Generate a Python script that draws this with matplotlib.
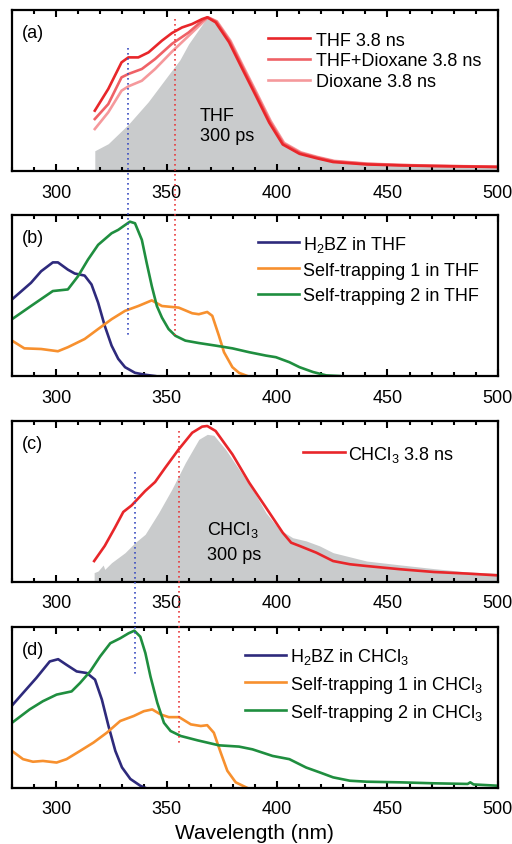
import matplotlib
matplotlib.use("Agg")
import matplotlib.pyplot as plt
from matplotlib.lines import Line2D
from matplotlib.transforms import blended_transform_factory
from matplotlib.ticker import MultipleLocator

plt.rcParams['font.family'] = ['Liberation Sans', 'DejaVu Sans']
plt.rcParams['mathtext.fontset'] = 'custom'
plt.rcParams['mathtext.rm'] = 'Liberation Sans'
plt.rcParams['mathtext.it'] = 'Liberation Sans'

# ---------------- data ----------------
# Panel (a)
a_fill_wl = [317.5, 323.6, 332.7, 341.7, 351, 356, 360, 364.6, 368.4, 372.2, 378.3, 384.3, 390.4, 396.5, 402.6, 410.2, 425.3, 440.5, 455.7, 475, 500]
a_fill_val = [0.126, 0.17, 0.29, 0.43, 0.60, 0.69, 0.79, 0.88, 0.955, 0.92, 0.79, 0.62, 0.455, 0.29, 0.16, 0.11, 0.066, 0.045, 0.035, 0.03, 0.025]

a_thf_wl = [317.5, 323.6, 329.6, 332.7, 337.2, 341.8, 347.9, 352.4, 357, 361.5, 366.1, 368.4, 372.2, 378.3, 384.3, 390.4, 396.5, 402.6, 410.2, 417.8, 425.4, 440.6, 455.8, 471, 500]
a_thf_val = [0.375, 0.51, 0.675, 0.706, 0.706, 0.737, 0.81, 0.857, 0.892, 0.913, 0.944, 0.955, 0.924, 0.80, 0.634, 0.468, 0.30, 0.165, 0.107, 0.08, 0.056, 0.041, 0.035, 0.031, 0.025]

a_mix_wl = [317.5, 323.6, 329.6, 332.7, 338.8, 344.8, 352.4, 360, 366.1, 368.6, 372.5, 378.6, 384.6, 390.7, 396.8, 402.9, 410.5, 418.1, 425.7, 440.9, 456.1, 471.3, 500]
a_mix_val = [0.323, 0.416, 0.582, 0.603, 0.634, 0.696, 0.79, 0.861, 0.934, 0.955, 0.928, 0.805, 0.64, 0.474, 0.306, 0.17, 0.112, 0.084, 0.06, 0.044, 0.037, 0.032, 0.026]

a_dio_wl = [317.5, 323.6, 329.6, 332.7, 338.8, 344.8, 352.4, 360, 366.1, 368.8, 372.8, 378.9, 384.9, 391, 397.1, 403.2, 410.8, 418.4, 426, 441.2, 456.4, 471.6, 500]
a_dio_val = [0.261, 0.365, 0.499, 0.526, 0.561, 0.634, 0.741, 0.84, 0.92, 0.955, 0.93, 0.81, 0.645, 0.48, 0.312, 0.175, 0.116, 0.087, 0.063, 0.046, 0.038, 0.033, 0.027]

# Panel (b)
b_h2bz_wl = [280, 288.6, 293.2, 298.5, 300.8, 305.3, 308.4, 312.9, 316, 319, 322, 325.1, 328.1, 331.2, 335.7, 340.3, 344.8]
b_h2bz_val = [0.476, 0.579, 0.651, 0.706, 0.706, 0.661, 0.637, 0.624, 0.569, 0.456, 0.312, 0.189, 0.107, 0.055, 0.02, 0.008, 0.0]

b_st1_wl = [280, 285.6, 293.2, 300.8, 305.3, 312.9, 319, 325.1, 331.2, 337.2, 343.3, 347.9, 355.5, 361.6, 364.6, 368.4, 370.7, 373.7, 376, 379.8, 382.8, 386.6]
b_st1_val = [0.22, 0.172, 0.168, 0.154, 0.179, 0.23, 0.292, 0.353, 0.405, 0.435, 0.47, 0.435, 0.425, 0.39, 0.384, 0.398, 0.374, 0.25, 0.148, 0.055, 0.02, 0.0]

b_st2_wl = [280, 288.6, 298.5, 305.3, 309.9, 314.4, 319, 325.1, 328.1, 331.2, 333.4, 335.7, 338.8, 341, 343.3, 345.6, 347.9, 350.9, 354, 358.5, 364.6, 372.2, 379.8, 387.4, 395, 399.5, 405.6, 410.2, 416.3, 422.3, 428.4]
b_st2_val = [0.353, 0.435, 0.528, 0.538, 0.62, 0.723, 0.815, 0.887, 0.908, 0.938, 0.959, 0.949, 0.846, 0.702, 0.559, 0.435, 0.363, 0.292, 0.25, 0.22, 0.205, 0.189, 0.172, 0.148, 0.127, 0.117, 0.086, 0.055, 0.025, 0.004, 0.0]

# Panel (c)
c_fill_wl = [317.2, 319, 321.3, 322, 325.1, 331.2, 335.7, 340.3, 346.4, 352.4, 358.5, 364.6, 368.4, 371.4, 376.7, 382.8, 388.9, 395, 401, 407.1, 413.2, 419.3, 425.4, 440.6, 455.8, 471, 486.3, 500]
c_fill_val = [0.058, 0.068, 0.105, 0.078, 0.12, 0.182, 0.244, 0.296, 0.43, 0.576, 0.741, 0.886, 0.917, 0.911, 0.824, 0.70, 0.576, 0.43, 0.327, 0.275, 0.255, 0.224, 0.182, 0.13, 0.106, 0.083, 0.062, 0.054]

c_chcl3_wl = [317.2, 322, 326.6, 330.4, 334.2, 340.3, 344.8, 349.4, 355.5, 361.6, 366.1, 368.4, 372.2, 379.8, 387.4, 395, 402.6, 406.4, 410.2, 417.8, 425.4, 433, 440.6, 455.8, 471, 486.3, 500]
c_chcl3_val = [0.13, 0.224, 0.337, 0.435, 0.476, 0.565, 0.621, 0.71, 0.824, 0.927, 0.965, 0.969, 0.938, 0.793, 0.617, 0.462, 0.306, 0.244, 0.224, 0.182, 0.13, 0.11, 0.099, 0.079, 0.062, 0.052, 0.041]

# Panel (d)
d_h2bz_wl = [280, 285, 291, 297.1, 300.9, 304.7, 309.3, 313.9, 317.6, 320.7, 323.7, 326.8, 329.8, 333.6, 338.1, 340.5]
d_h2bz_val = [0.512, 0.59, 0.683, 0.786, 0.80, 0.765, 0.724, 0.714, 0.673, 0.549, 0.385, 0.23, 0.128, 0.056, 0.014, 0.0]

d_st1_wl = [280, 285, 289.5, 294, 300.2, 304.7, 310.8, 316.9, 323, 329, 335.1, 339.7, 343.5, 347.3, 351, 355.7, 361, 365.5, 368.4, 371.4, 374.5, 377.5, 381.3, 386.6]
d_st1_val = [0.23, 0.179, 0.163, 0.168, 0.158, 0.179, 0.23, 0.282, 0.344, 0.416, 0.447, 0.477, 0.488, 0.457, 0.44, 0.44, 0.395, 0.385, 0.39, 0.343, 0.22, 0.107, 0.035, 0.0]

d_st2_wl = [280, 288, 294, 300.2, 307, 310.8, 315.4, 319.9, 324.5, 329, 332.8, 335.4, 338.1, 340.4, 342.7, 345.8, 348.8, 351.8, 356.4, 364, 373.7, 382.8, 388.9, 398, 405.6, 413.2, 419.3, 425.4, 433, 440.6, 455.8, 471, 486.3, 487.5, 489, 500]
d_st2_val = [0.405, 0.488, 0.539, 0.58, 0.60, 0.652, 0.724, 0.817, 0.899, 0.93, 0.961, 0.977, 0.94, 0.838, 0.693, 0.529, 0.405, 0.354, 0.323, 0.296, 0.265, 0.257, 0.24, 0.199, 0.179, 0.127, 0.097, 0.066, 0.045, 0.039, 0.035, 0.029, 0.025, 0.035, 0.022, 0.014]

# Marker wavelengths (dotted guide lines)
guide_ab = [332.5, 354.0]
guide_cd = [335.5, 355.5]

# ---------------- styles ----------------
RED = '#e8262a'
RED_MID = '#ef6166'
RED_LIGHT = '#f5999c'
NAVY = '#2e2a7c'
ORANGE = '#f7902e'
GREEN = '#1f8e3f'
GRAY = '#c9cbcc'
BLUE_DOT = '#3a4cc0'
RED_DOT = '#e8393c'

fig = plt.figure(figsize=(5.12, 8.45), dpi=100)
L, W, H = 0.0234, 0.949, 0.1905
bottoms = [0.7964, 0.5538, 0.3101, 0.0663]
axs = [fig.add_axes([L, b, W, H]) for b in bottoms]

for ax in axs:
    ax.set_xlim(280, 500)
    ax.set_ylim(0, 1)
    ax.set_yticks([])
    ax.xaxis.set_major_locator(MultipleLocator(50))
    ax.xaxis.set_minor_locator(MultipleLocator(10))
    ax.tick_params(axis='x', which='both', direction='in', top=True, bottom=True, width=1.5, labelsize=13, pad=9)
    ax.tick_params(axis='x', which='major', length=5)
    ax.tick_params(axis='x', which='minor', length=3)
    for s in ax.spines.values():
        s.set_linewidth(1.6)

lw = 1.9
leg_kw = dict(loc='upper left', frameon=False, fontsize=13, handlelength=2.3,
              borderpad=0, borderaxespad=0)
# (a)
ax = axs[0]
ax.fill_between(a_fill_wl, a_fill_val, 0, color=GRAY, lw=0)
ax.plot(a_dio_wl, a_dio_val, color=RED_LIGHT, lw=lw, label='Dioxane 3.8 ns')
ax.plot(a_mix_wl, a_mix_val, color=RED_MID, lw=lw, label='THF+Dioxane 3.8 ns')
ax.plot(a_thf_wl, a_thf_val, color=RED, lw=lw, label='THF 3.8 ns')
h, l = ax.get_legend_handles_labels()
ax.legend(h[::-1], l[::-1], bbox_to_anchor=(0.527, 0.865), handletextpad=0.35, labelspacing=0.2, **leg_kw)
ax.text(365, 0.344, 'THF', fontsize=13, va='center', ha='left')
ax.text(365, 0.22, '300 ps', fontsize=13, va='center', ha='left')

# (b)
ax = axs[1]
ax.plot(b_h2bz_wl, b_h2bz_val, color=NAVY, lw=lw, label='H$_2$BZ in THF')
ax.plot(b_st1_wl, b_st1_val, color=ORANGE, lw=lw, label='Self-trapping 1 in THF')
ax.plot(b_st2_wl, b_st2_val, color=GREEN, lw=lw, label='Self-trapping 2 in THF')
ax.legend(bbox_to_anchor=(0.506, 0.885), handletextpad=0.2, labelspacing=0.45, **leg_kw)

# (c)
ax = axs[2]
ax.fill_between(c_fill_wl, c_fill_val, 0, color=GRAY, lw=0)
ax.plot(c_chcl3_wl, c_chcl3_val, color=RED, lw=lw, label='CHCl$_3$ 3.8 ns')
ax.legend(bbox_to_anchor=(0.599, 0.86), handletextpad=0.2, labelspacing=0.2, **leg_kw)
ax.text(368.4, 0.327, 'CHCl$_3$', fontsize=13, va='center', ha='left')
ax.text(368.4, 0.172, '300 ps', fontsize=13, va='center', ha='left')

# (d)
ax = axs[3]
ax.plot(d_h2bz_wl, d_h2bz_val, color=NAVY, lw=lw, label='H$_2$BZ in CHCl$_3$')
ax.plot(d_st1_wl, d_st1_val, color=ORANGE, lw=lw, label='Self-trapping 1 in CHCl$_3$')
ax.plot(d_st2_wl, d_st2_val, color=GREEN, lw=lw, label='Self-trapping 2 in CHCl$_3$')
ax.legend(bbox_to_anchor=(0.479, 0.88), handletextpad=0.2, labelspacing=0.4, **leg_kw)
ax.set_xlabel('Wavelength (nm)', fontsize=15, labelpad=4)

for ax, lab in zip(axs, ['(a)', '(b)', '(c)', '(d)']):
    ax.text(0.02, 0.86, lab, transform=ax.transAxes, fontsize=13, va='center', ha='left')

# dotted guide lines spanning panel pairs
def guide(ax, x, y0, y1, color):
    tr = blended_transform_factory(ax.transData, fig.transFigure)
    fig.add_artist(Line2D([x, x], [y0, y1], transform=tr, color=color, lw=1.2, ls=(0, (1, 2))))

guide(axs[0], guide_ab[0], 0.942, 0.600, BLUE_DOT)
guide(axs[0], guide_ab[1], 0.976, 0.602, RED_DOT)
guide(axs[2], guide_cd[0], 0.440, 0.201, BLUE_DOT)
guide(axs[2], guide_cd[1], 0.489, 0.116, RED_DOT)

fig.savefig('out.png', dpi=100)
